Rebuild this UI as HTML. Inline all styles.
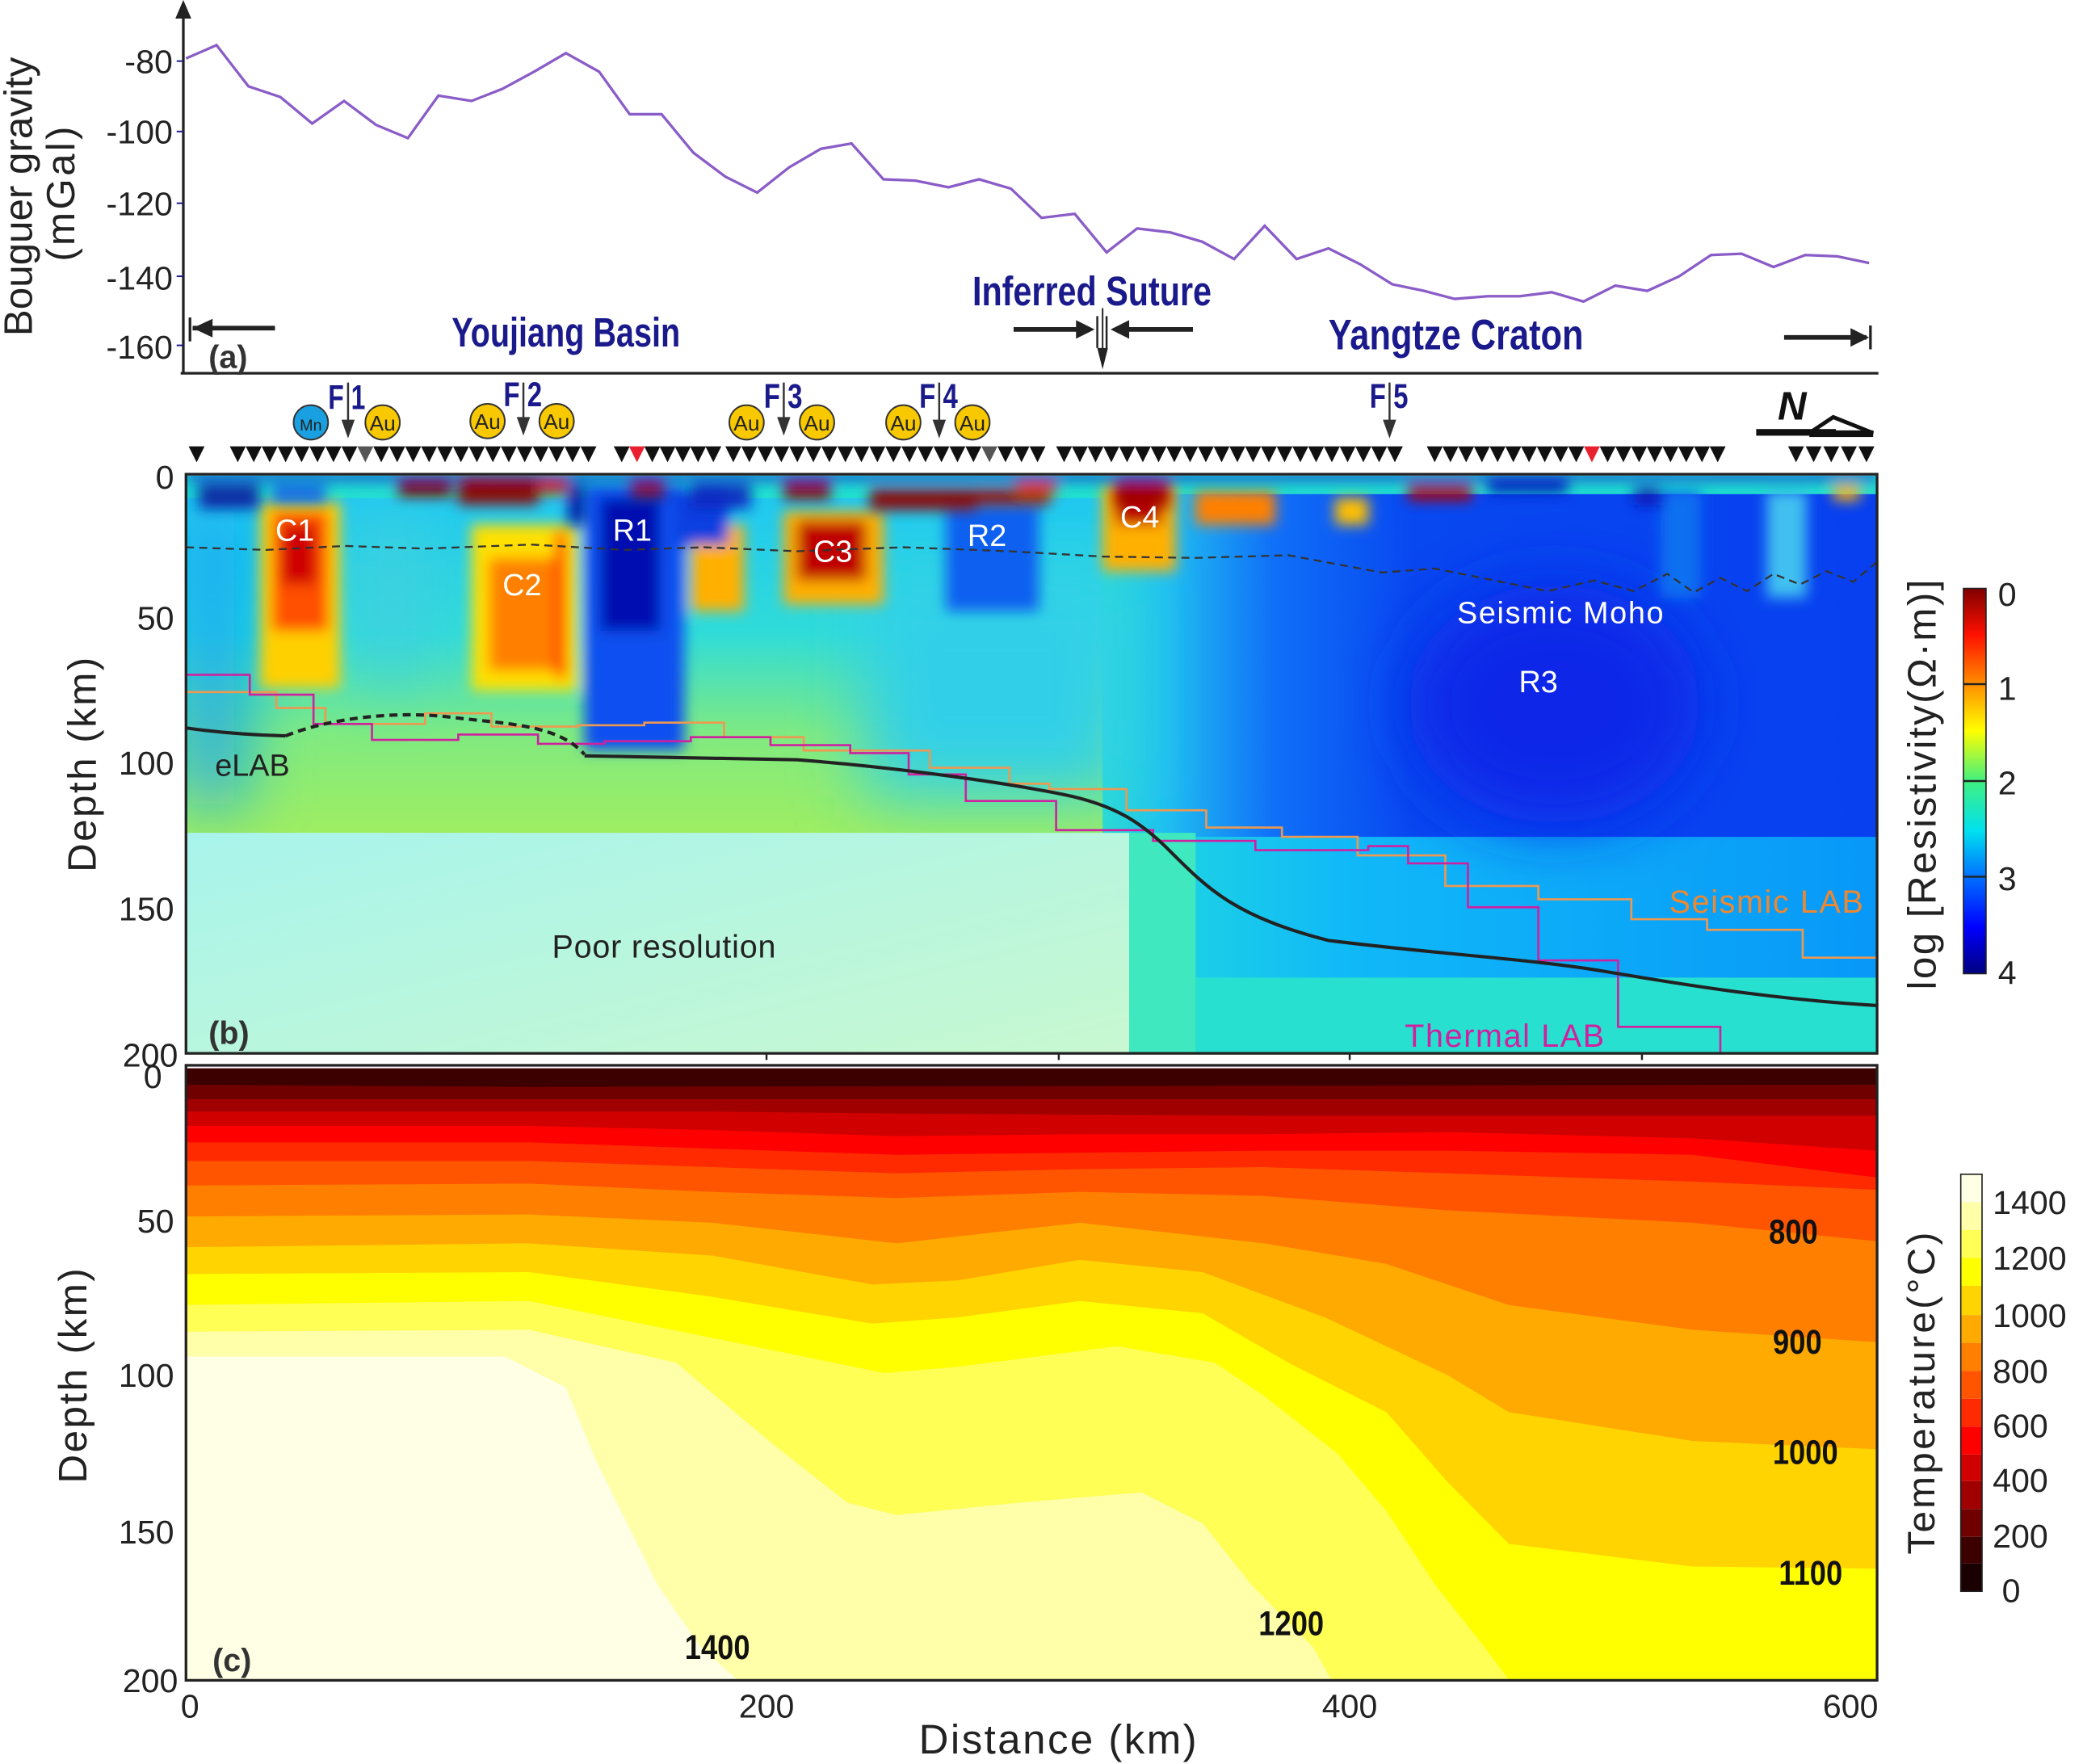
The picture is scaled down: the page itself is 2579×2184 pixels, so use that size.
<!DOCTYPE html>
<html><head><meta charset="utf-8"><style>
html,body{margin:0;padding:0;background:#fff}
svg{display:block}
text{font-family:"Liberation Sans",sans-serif}
.nv{font-weight:bold;fill:#1a1a8c}
</style></head><body>
<svg width="2579" height="2184" viewBox="0 0 1568 1328" preserveAspectRatio="none" xmlns="http://www.w3.org/2000/svg">
<defs>
<filter id="bl" x="-30%" y="-30%" width="160%" height="160%"><feGaussianBlur stdDeviation="5"/></filter>
<filter id="bl2" x="-30%" y="-30%" width="160%" height="160%"><feGaussianBlur stdDeviation="25"/></filter>
<clipPath id="cb"><rect x="140" y="358" width="1273" height="435"/></clipPath>
<clipPath id="cc"><rect x="20" y="45" width="1380" height="1485"/></clipPath>
<linearGradient id="lg1" x1="0" y1="0" x2="0" y2="1">
<stop offset="0" stop-color="#20c8f0"/><stop offset="0.4" stop-color="#30dcd8"/><stop offset="0.7" stop-color="#80ea80"/><stop offset="1" stop-color="#a0ee60"/></linearGradient>
<linearGradient id="lg2" x1="0" y1="0" x2="1" y2="0">
<stop offset="0" stop-color="#28dcd0"/><stop offset="0.08" stop-color="#20c0f0"/><stop offset="0.22" stop-color="#1070f8"/><stop offset="0.4" stop-color="#0848f0"/><stop offset="1" stop-color="#0840f0"/></linearGradient>
<linearGradient id="lg4" x1="0" y1="0" x2="1" y2="0">
<stop offset="0" stop-color="#20d8e0"/><stop offset="0.3" stop-color="#10b8f8"/><stop offset="1" stop-color="#0898f8"/></linearGradient>
<linearGradient id="lg3" x1="0" y1="0" x2="1" y2="1">
<stop offset="0" stop-color="#a8f4ec"/><stop offset="1" stop-color="#c8f8d0"/></linearGradient>
<linearGradient id="jet" x1="0" y1="0" x2="0" y2="1">
<stop offset="0" stop-color="#800000"/><stop offset="0.12" stop-color="#ff1000"/><stop offset="0.25" stop-color="#ff9000"/><stop offset="0.37" stop-color="#ffff00"/><stop offset="0.5" stop-color="#40f080"/><stop offset="0.63" stop-color="#00e0f0"/><stop offset="0.75" stop-color="#0070ff"/><stop offset="0.88" stop-color="#0000ff"/><stop offset="1" stop-color="#000080"/></linearGradient>
</defs>

<!-- Panel a -->
<line x1="138" y1="8" x2="138" y2="280" stroke="#222" stroke-width="2"/>
<polygon points="132,14 144,14 138,0" fill="#222"/>
<line x1="136" y1="281" x2="1414" y2="281" stroke="#222" stroke-width="2"/>
<g font-size="25" fill="#222" text-anchor="end">
<text x="130" y="55">-80</text><text x="130" y="108">-100</text><text x="130" y="162">-120</text><text x="130" y="218">-140</text><text x="130" y="270">-160</text></g>
<g stroke="#1a1a8c" stroke-width="1.2"><line x1="133" y1="46" x2="138" y2="46"/><line x1="133" y1="99" x2="138" y2="99"/><line x1="133" y1="153" x2="138" y2="153"/><line x1="133" y1="208" x2="138" y2="208"/><line x1="133" y1="260" x2="138" y2="260"/></g>
<text transform="translate(24,148) rotate(-90)" font-size="30" fill="#222" text-anchor="middle">Bouguer gravity</text>
<text transform="translate(56,145) rotate(-90)" font-size="30" fill="#222" text-anchor="middle" letter-spacing="2">(mGal)</text>
<polyline fill="none" stroke="#8a5cc8" stroke-width="2" points="140,44 163,34 187,65 211,73 235,93 259,76 283,94 307,104 330,72 355,76 378,67 402,54 426,40 451,54 474,86 498,86 522,115 546,133 570,145 594,126 618,112 641,108 665,135 689,136 714,141 737,135 761,142 784,164 809,161 833,190 856,172 881,175 905,182 929,195 952,170 976,195 1000,187 1024,199 1048,214 1072,219 1095,225 1120,223 1144,223 1168,220 1192,227 1216,215 1240,219 1264,208 1288,192 1311,191 1335,201 1359,192 1383,193 1407,198"/>
<text x="157" y="277" font-size="24" font-weight="bold" fill="#333">(a)</text>
<g stroke="#222" stroke-width="3.5" fill="#222">
<line x1="145" y1="247" x2="207" y2="247"/><line x1="143" y1="239" x2="143" y2="257" stroke-width="2"/><polygon points="145,247 160,240 160,254" stroke="none"/>
<line x1="763" y1="248" x2="820" y2="248"/><polygon points="824,248 810,241 810,255" stroke="none"/>
<line x1="840" y1="248" x2="898" y2="248"/><polygon points="836,248 850,241 850,255" stroke="none"/>
<line x1="826" y1="238" x2="826" y2="262" stroke-width="1.5"/><line x1="833" y1="238" x2="833" y2="262" stroke-width="1.5"/>
<line x1="830" y1="232" x2="830" y2="270" stroke-width="1.2"/><polygon points="826,262 834,262 830,278" stroke="none"/>
<line x1="1343" y1="254" x2="1405" y2="254"/><polygon points="1407,254 1393,247 1393,261" stroke="none"/><line x1="1408" y1="245" x2="1408" y2="263" stroke-width="2"/>
</g>
<text x="340" y="261" class="nv" font-size="31" textLength="172" lengthAdjust="spacingAndGlyphs">Youjiang  Basin</text>
<text x="732" y="230" class="nv" font-size="31" textLength="180" lengthAdjust="spacingAndGlyphs">Inferred Suture</text>
<text x="1000" y="263" class="nv" font-size="32" textLength="192" lengthAdjust="spacingAndGlyphs">Yangtze  Craton</text>

<!-- faults -->
<g class="nv" font-size="26">
<text x="247" y="308" textLength="28" lengthAdjust="spacingAndGlyphs">F 1</text>
<text x="379" y="306" textLength="29" lengthAdjust="spacingAndGlyphs">F 2</text>
<text x="575" y="307" textLength="29" lengthAdjust="spacingAndGlyphs">F 3</text>
<text x="692" y="307" textLength="29" lengthAdjust="spacingAndGlyphs">F 4</text>
<text x="1031" y="307" textLength="29" lengthAdjust="spacingAndGlyphs">F 5</text></g>
<g stroke="#333" stroke-width="1.5" fill="#333">
<line x1="262" y1="288" x2="262" y2="320"/><polygon points="257,316 267,316 262,330" stroke="none"/>
<line x1="394" y1="288" x2="394" y2="318"/><polygon points="389,314 399,314 394,328" stroke="none"/>
<line x1="590" y1="288" x2="590" y2="318"/><polygon points="585,314 595,314 590,328" stroke="none"/>
<line x1="707" y1="288" x2="707" y2="320"/><polygon points="702,316 712,316 707,330" stroke="none"/>
<line x1="1046" y1="288" x2="1046" y2="320"/><polygon points="1041,316 1051,316 1046,330" stroke="none"/>
</g>
<g stroke="#333" stroke-width="1.2">
<circle cx="234" cy="318" r="13" fill="#1aa0e0"/><circle cx="288" cy="318" r="13" fill="#f8c800"/>
<circle cx="367" cy="317" r="13" fill="#f8c800"/><circle cx="419" cy="317" r="13" fill="#f8c800"/>
<circle cx="562" cy="318" r="13" fill="#f8c800"/><circle cx="615" cy="318" r="13" fill="#f8c800"/>
<circle cx="680" cy="318" r="13" fill="#f8c800"/><circle cx="732" cy="318" r="13" fill="#f8c800"/>
</g>
<g font-size="16" fill="#222" text-anchor="middle">
<text x="234" y="324" font-size="12">Mn</text><text x="288" y="324">Au</text><text x="367" y="323">Au</text><text x="419" y="323">Au</text><text x="562" y="324">Au</text><text x="615" y="324">Au</text><text x="680" y="324">Au</text><text x="732" y="324">Au</text></g>
<!-- north arrow -->
<text x="1349" y="316" font-size="30" font-weight="bold" font-style="italic" fill="#111" text-anchor="middle">N</text>
<rect x="1322" y="323" width="60" height="5" fill="#111"/>
<polygon points="1362,326 1380,314 1410,326" fill="none" stroke="#111" stroke-width="3"/>
<rect x="1362" y="324" width="48" height="5" fill="#111"/>

<g id="tri" fill="#111"></g>

<!-- Panel b -->
<g clip-path="url(#cb)">
<rect x="140" y="358" width="1273" height="435" fill="#20e0d0"/>
<rect x="140" y="375" width="760" height="255" fill="url(#lg1)"/>
<rect x="830" y="372" width="583" height="268" fill="url(#lg2)"/>
<rect x="850" y="630" width="563" height="110" fill="url(#lg4)"/>
<rect x="850" y="736" width="563" height="60" fill="#28e0d0"/>
<g filter="url(#bl2)">
<ellipse cx="1170" cy="530" rx="110" ry="90" fill="#0828e8"/>
<rect x="140" y="385" width="40" height="220" fill="#10a0f8"/>
<rect x="270" y="390" width="50" height="120" fill="#40d0e0"/>
<rect x="650" y="430" width="200" height="170" fill="#30d0e8"/>
</g>
<g filter="url(#bl)">
<rect x="196" y="378" width="60" height="140" fill="#ffd000"/>
<rect x="205" y="385" width="42" height="90" fill="#ff5000"/>
<rect x="212" y="395" width="26" height="45" fill="#d00000"/>
<rect x="355" y="395" width="80" height="125" fill="#ffe000"/>
<rect x="368" y="420" width="55" height="85" fill="#ff8000"/>
<rect x="418" y="400" width="8" height="110" fill="#ff2000"/>
<rect x="520" y="395" width="40" height="65" fill="#ffb000"/>
<rect x="590" y="385" width="75" height="70" fill="#ffb000"/>
<rect x="600" y="392" width="52" height="45" fill="#c00000"/>
<rect x="830" y="365" width="55" height="65" fill="#ffb000"/>
<rect x="840" y="365" width="35" height="30" fill="#c00000"/>
<rect x="900" y="370" width="60" height="25" fill="#ff8000"/>
<rect x="1005" y="375" width="25" height="20" fill="#ffc000"/>
<rect x="440" y="365" width="75" height="200" fill="#0c50f0"/>
<rect x="452" y="375" width="45" height="100" fill="#0010b0"/>
<rect x="712" y="380" width="70" height="80" fill="#1060f0"/>
<rect x="508" y="370" width="40" height="40" fill="#0840e0"/>
<rect x="1330" y="370" width="30" height="80" fill="#40c0f0"/>
<rect x="1250" y="370" width="30" height="80" fill="#1070f0"/>
</g>
<!-- shallow strip -->
<g filter="url(#bl)" opacity="0.95">
<rect x="140" y="356" width="1273" height="6" fill="#1838d0"/>
<rect x="150" y="365" width="45" height="18" fill="#0820a0"/>
<rect x="205" y="366" width="40" height="12" fill="#1858e8"/>
<rect x="300" y="360" width="40" height="14" fill="#800000"/>
<rect x="345" y="358" width="60" height="22" fill="#900000"/>
<rect x="405" y="360" width="22" height="12" fill="#d02000"/>
<rect x="428" y="365" width="12" height="30" fill="#0010a0"/>
<rect x="475" y="362" width="25" height="12" fill="#900000"/>
<rect x="520" y="365" width="45" height="18" fill="#0828c0"/>
<rect x="590" y="362" width="35" height="14" fill="#900000"/>
<rect x="655" y="368" width="80" height="16" fill="#900000"/>
<rect x="735" y="368" width="55" height="12" fill="#a00000"/>
<rect x="765" y="362" width="30" height="10" fill="#e04000"/>
<rect x="840" y="362" width="40" height="20" fill="#a00000"/>
<rect x="1060" y="365" width="48" height="12" fill="#b00000"/>
<rect x="1120" y="362" width="60" height="10" fill="#0020c0"/>
<rect x="1230" y="368" width="20" height="12" fill="#0818b0"/>
<rect x="1380" y="365" width="20" height="12" fill="#ffb000"/>
</g>
<rect x="140" y="627" width="710" height="170" fill="url(#lg3)"/>
<rect x="850" y="627" width="50" height="170" fill="#40e8c0"/>
<!-- lines -->
<polyline fill="none" stroke="#333" stroke-width="1.4" stroke-dasharray="6,4" points="140,412 200,414 260,411 320,413 400,410 470,414 530,412 600,415 680,412 760,415 830,419 900,420 970,418 1040,431 1080,428 1130,438 1165,445 1200,437 1230,445 1255,432 1275,446 1295,435 1315,445 1335,432 1355,440 1375,430 1395,438 1413,423"/>
<polyline fill="none" stroke="#ee9850" stroke-width="1.6" points="140,521 208,521 208,533 245,533 245,545 320,545 320,537 370,537 370,547 435,547 435,546 485,546 485,544 545,544 545,555 605,555 605,565 700,565 700,578 760,578 760,590 790,590 790,594 848,594 848,610 908,610 908,623 965,623 965,630 1022,630 1022,644 1088,644 1088,667 1158,667 1158,677 1228,677 1228,692 1285,692 1285,700 1357,700 1357,721 1413,721"/>
<polyline fill="none" stroke="#d020a0" stroke-width="1.6" points="140,508 188,508 188,523 236,523 236,545 280,545 280,557 345,557 345,553 405,553 405,560 455,560 455,558 520,558 520,555 580,555 580,561 640,561 640,567 684,567 684,583 727,583 727,603 795,603 795,625 868,625 868,633 945,633 945,640 1030,640 1030,637 1060,637 1060,650 1105,650 1105,683 1158,683 1158,723 1218,723 1218,773 1295,773 1295,793"/>
<path d="M140,548 Q175,553 215,554" fill="none" stroke="#222" stroke-width="2.5"/>
<path d="M215,554 C250,540 300,535 340,540 S420,545 440,568" fill="none" stroke="#222" stroke-width="2.5" stroke-dasharray="6,4"/>
<path d="M440,569 L600,572 C680,578 760,590 800,598 C840,606 860,620 880,640 C910,670 930,690 1000,708 C1080,718 1150,722 1200,730 C1260,740 1330,752 1413,757" fill="none" stroke="#222" stroke-width="2.5"/>
</g>
<rect x="140" y="357" width="1273" height="436" fill="none" stroke="#222" stroke-width="2"/>
<g stroke="#222" stroke-width="1.5"><line x1="797" y1="793" x2="797" y2="798"/><line x1="1016" y1="793" x2="1016" y2="798"/><line x1="1236" y1="793" x2="1236" y2="798"/><line x1="577" y1="793" x2="577" y2="798"/></g>
<g font-size="23" fill="#fff" text-anchor="middle">
<text x="222" y="407">C1</text><text x="393" y="448">C2</text><text x="627" y="423">C3</text><text x="858" y="397">C4</text>
<text x="476" y="407">R1</text><text x="743" y="411">R2</text><text x="1158" y="521">R3</text><text x="1175" y="469" letter-spacing="1">Seismic  Moho</text></g>
<text x="190" y="584" font-size="23" fill="#222" text-anchor="middle">eLAB</text>
<text x="500" y="721" font-size="24" fill="#222" text-anchor="middle" letter-spacing="0.5">Poor resolution</text>
<text x="1330" y="687" font-size="24" fill="#ee8830" text-anchor="middle" letter-spacing="1">Seismic  LAB</text>
<text x="1133" y="788" font-size="24" fill="#d020a0" text-anchor="middle" letter-spacing="1">Thermal  LAB</text>
<text x="157" y="786" font-size="24" font-weight="bold" fill="#333">(b)</text>
<g font-size="25" fill="#222" text-anchor="end">
<text x="131" y="368">0</text><text x="131" y="474">50</text><text x="131" y="583">100</text><text x="131" y="693">150</text><text x="134" y="803">200</text></g>
<text transform="translate(72,575) rotate(-90)" font-size="30" fill="#222" text-anchor="middle" letter-spacing="1.5">Depth  (km)</text>
<!-- res colorbar -->
<rect x="1478" y="443" width="17" height="290" fill="url(#jet)" stroke="#222" stroke-width="1"/>
<g stroke="#222" stroke-width="1.5"><line x1="1478" y1="515" x2="1495" y2="515"/><line x1="1478" y1="588" x2="1495" y2="588"/><line x1="1478" y1="660" x2="1495" y2="660"/></g>
<g font-size="25" fill="#222"><text x="1504" y="456">0</text><text x="1504" y="527">1</text><text x="1504" y="598">2</text><text x="1504" y="670">3</text><text x="1504" y="741">4</text></g>
<text transform="translate(1457,590) rotate(-90)" font-size="30" fill="#222" text-anchor="middle" letter-spacing="1.5">log [Resistivity(Ω·m)]</text>

<!-- Panel c -->
<g transform="translate(121.6,790.3) scale(0.922,0.310)" clip-path="url(#cc)">
<rect x="0" y="0" width="1500" height="1600" fill="#3c0000"/>
<polygon fill="#700000" points="20,85 300,90 1400,85 1500,85 1500,1600 0,1600 0,85"/>
<polygon fill="#a00000" points="0,120 1500,120 1500,1600 0,1600"/>
<polygon fill="#d00000" points="0,150 450,150 600,155 900,160 1500,160 1500,1600 0,1600"/>
<polygon fill="#ff0000" points="0,185 300,185 450,195 600,210 750,205 900,205 1050,200 1250,215 1400,245 1500,245 1500,1600 0,1600"/>
<polygon fill="#ff2a00" points="0,225 300,225 450,240 600,255 750,250 900,245 1050,245 1250,255 1400,310 1500,310 1500,1600 0,1600"/>
<polygon fill="#ff5500" points="0,270 300,270 450,285 600,300 750,290 900,285 1050,300 1250,320 1400,340 1500,340 1500,1600 0,1600"/>
<polygon fill="#ff7f00" points="0,330 300,325 450,345 600,360 750,345 900,355 1050,390 1250,420 1400,465 1500,465 1500,1600 0,1600"/>
<polygon fill="#ffaa00" points="0,405 300,400 450,420 600,470 750,420 900,470 1000,520 1100,620 1250,680 1400,710 1500,710 1500,1600 0,1600"/>
<polygon fill="#ffd400" points="0,480 300,470 450,500 580,570 650,560 750,510 850,540 950,650 1050,790 1100,880 1250,950 1400,970 1500,970 1500,1600 0,1600"/>
<polygon fill="#ffff00" points="0,545 300,540 450,600 580,665 650,650 750,610 850,640 920,760 1000,880 1050,1050 1100,1200 1250,1255 1400,1260 1500,1260 1500,1600 0,1600"/>
<polygon fill="#ffff55" points="0,620 300,610 450,700 590,785 650,770 780,720 860,760 900,840 960,980 1000,1120 1040,1300 1080,1450 1100,1530 1500,1600 0,1600"/>
<polygon fill="#ffffaa" points="0,685 300,680 420,760 500,960 560,1100 600,1130 700,1100 800,1075 850,1150 890,1300 940,1450 955,1530 960,1600 0,1600"/>
<polygon fill="#ffffe6" points="0,745 280,745 330,820 355,1000 380,1150 405,1300 440,1450 470,1530 470,1600 0,1600"/>
</g>
<rect x="140" y="802" width="1273" height="463" fill="none" stroke="#222" stroke-width="2"/>
<g font-size="26" font-weight="bold" fill="#111" text-anchor="middle">
<text x="1350" y="936" transform="translate(1350,0) scale(0.85,1) translate(-1350,0)">800</text>
<text x="1353" y="1019" transform="translate(1353,0) scale(0.85,1) translate(-1353,0)">900</text>
<text x="1359" y="1102" transform="translate(1359,0) scale(0.85,1) translate(-1359,0)">1000</text>
<text x="1363" y="1193" transform="translate(1363,0) scale(0.85,1) translate(-1363,0)">1100</text>
<text x="972" y="1231" transform="translate(972,0) scale(0.85,1) translate(-972,0)">1200</text>
<text x="540" y="1249" transform="translate(540,0) scale(0.85,1) translate(-540,0)">1400</text></g>
<text x="160" y="1258" font-size="24" font-weight="bold" fill="#333">(c)</text>
<g font-size="25" fill="#222" text-anchor="end">
<text x="122" y="819">0</text><text x="131" y="928">50</text><text x="131" y="1044">100</text><text x="131" y="1162">150</text><text x="134" y="1274">200</text></g>
<text transform="translate(65,1035) rotate(-90)" font-size="30" fill="#222" text-anchor="middle" letter-spacing="1.5">Depth  (km)</text>
<g font-size="25" fill="#222" text-anchor="middle"><text x="143" y="1293">0</text><text x="577" y="1293">200</text><text x="1016" y="1293">400</text><text x="1393" y="1293">600</text></g>
<text x="797" y="1320" font-size="31" fill="#222" text-anchor="middle" letter-spacing="1.5">Distance  (km)</text>
<!-- temp colorbar -->
<g>
<rect x="1476" y="884" width="16" height="21" fill="#ffffe6"/>
<rect x="1476" y="905" width="16" height="21" fill="#ffffaa"/>
<rect x="1476" y="926" width="16" height="21" fill="#ffff55"/>
<rect x="1476" y="947" width="16" height="21" fill="#ffff00"/>
<rect x="1476" y="968" width="16" height="22" fill="#ffd400"/>
<rect x="1476" y="990" width="16" height="21" fill="#ffaa00"/>
<rect x="1476" y="1011" width="16" height="21" fill="#ff7f00"/>
<rect x="1476" y="1032" width="16" height="21" fill="#ff5500"/>
<rect x="1476" y="1053" width="16" height="21" fill="#ff2a00"/>
<rect x="1476" y="1074" width="16" height="21" fill="#ff0000"/>
<rect x="1476" y="1095" width="16" height="20" fill="#d00000"/>
<rect x="1476" y="1115" width="16" height="21" fill="#a00000"/>
<rect x="1476" y="1136" width="16" height="21" fill="#700000"/>
<rect x="1476" y="1157" width="16" height="20" fill="#3c0000"/>
<rect x="1476" y="1177" width="16" height="21" fill="#1a0000"/>
<rect x="1476" y="884" width="16" height="314" fill="none" stroke="#222" stroke-width="1"/>
</g>
<g font-size="25" fill="#222"><text x="1500" y="914">1400</text><text x="1500" y="956">1200</text><text x="1500" y="999">1000</text><text x="1500" y="1041">800</text><text x="1500" y="1082">600</text><text x="1500" y="1123">400</text><text x="1500" y="1165">200</text><text x="1507" y="1206">0</text></g>
<text transform="translate(1456,1048) rotate(-90)" font-size="29" fill="#222" text-anchor="middle" letter-spacing="2">Temperature(°C)</text>
</svg>
<script>
(function(){
var g=document.getElementById('tri');var ns='http://www.w3.org/2000/svg';
var segs=[[148,148],[179,443],[468,537],[552,781],[801,1050],[1080,1293],[1352,1405]];
var red=[484,1193],gray=[275,745];
segs.forEach(function(s){var n=Math.max(0,Math.round((s[1]-s[0])/12.1));var st=n?(s[1]-s[0])/n:0;
for(var i=0;i<=n;i++){var x=s[0]+i*st;var p=document.createElementNS(ns,'polygon');
p.setAttribute('points',(x-6)+',336 '+(x+6)+',336 '+x+',348');
var f='#111';red.forEach(function(r){if(Math.abs(r-x)<6)f='#e82030';});gray.forEach(function(r){if(Math.abs(r-x)<6)f='#555';});
p.setAttribute('fill',f);g.appendChild(p);}});
})();
</script>
</body></html>
